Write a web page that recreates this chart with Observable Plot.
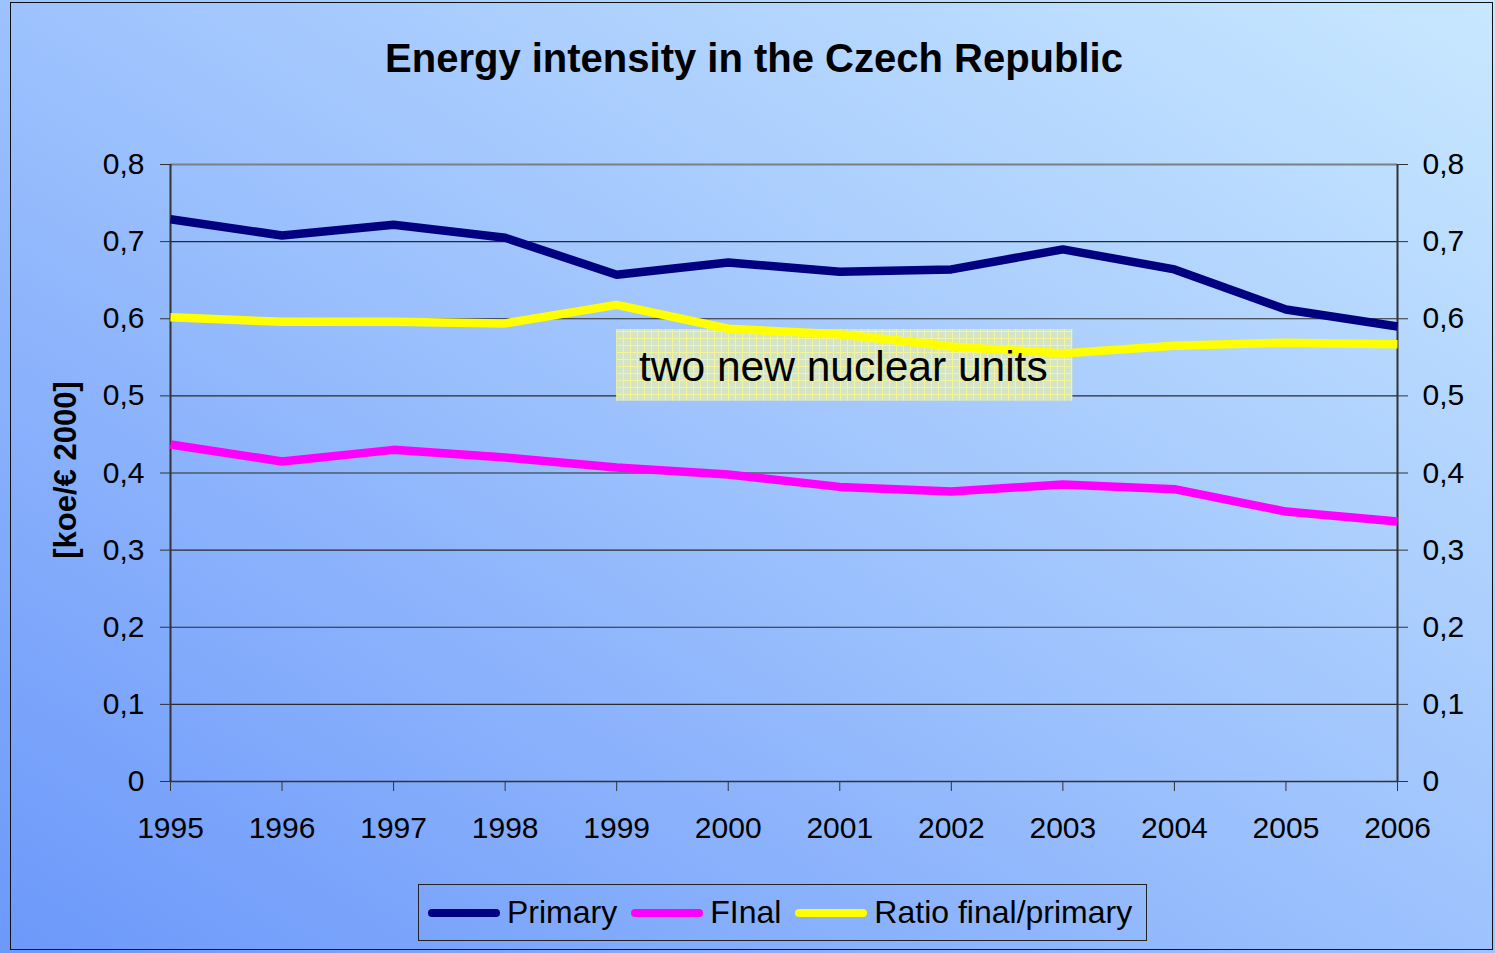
<!DOCTYPE html>
<html>
<head>
<meta charset="utf-8">
<script src="https://cdn.jsdelivr.net/npm/d3@7"></script>
<script src="https://cdn.jsdelivr.net/npm/@observablehq/plot@0.6"></script>
<style>
  html, body { margin: 0; padding: 0; }
  body { width: 1495px; height: 953px; overflow: hidden; font-family: "Liberation Sans", Arial, sans-serif;
         background: linear-gradient(to top right, #6c98fa 0%, #9dc2fd 50%, #c8e8ff 100%); position: relative; }
  #frame { position: absolute; left: 10px; top: 2px; width: 1483px; height: 948px; border: 1.5px solid #111; box-sizing: border-box; }
  #title { position: absolute; left: 0; width: 1508px; top: 36px; text-align: center; font-weight: bold; font-size: 40px; color: #000; }
  #ylabel { position: absolute; left: 66px; top: 470px; transform: translate(-50%, -50%) rotate(-90deg); font-weight: bold; font-size: 31px; white-space: nowrap; color: #000; }
  #chart { position: absolute; left: 0; top: 100px; }
  #legend { position: absolute; left: 418px; top: 884px; width: 729px; height: 57px; border: 1.5px solid #222; box-sizing: border-box;
            display: flex; align-items: center; padding-left: 9px; font-size: 32px; color: #000; white-space: nowrap; }
  .item { display: flex; align-items: center; margin-right: 14px; white-space: nowrap; flex: none; }
  .sw { display: inline-block; width: 72px; height: 8px; border-radius: 4px; margin-right: 7px; }
</style>
</head>
<body>
<div id="frame"></div>
<div id="title">Energy intensity in the Czech Republic</div>
<div id="ylabel">[koe/€ 2000]</div>
<div id="chart"></div>
<div id="legend"></div>
<script>
const years = [1995, 1996, 1997, 1998, 1999, 2000, 2001, 2002, 2003, 2004, 2005, 2006];
const primary = [0.729, 0.708, 0.722, 0.705, 0.657, 0.673, 0.661, 0.664, 0.690, 0.664, 0.612, 0.590];
const finalE  = [0.437, 0.415, 0.430, 0.420, 0.407, 0.398, 0.382, 0.376, 0.385, 0.379, 0.350, 0.337];
const ratio   = [0.602, 0.596, 0.596, 0.594, 0.618, 0.587, 0.580, 0.564, 0.555, 0.565, 0.569, 0.567];
const seriesNames = ["Primary", "FInal", "Ratio final/primary"];
const seriesColors = ["#000080", "#ff00ff", "#ffff00"];
const yTicks = [0, 0.1, 0.2, 0.3, 0.4, 0.5, 0.6, 0.7, 0.8];
const annotationText = "two new nuclear units";
const annotationBox = [{x1: 1999, x2: 2003.09, y1: 0.493, y2: 0.586}];
const annotationPos = [{x: 1999.2, y: 0.537}];

const seriesValues = [primary, finalE, ratio];
const rows = [];
seriesNames.forEach((s, i) => years.forEach((yr, j) => rows.push({series: s, year: yr, value: seriesValues[i][j]})));

const fmt = d => d === 0 ? "0" : String(d).replace(".", ",");
const font = "Liberation Sans, Arial, sans-serif";

const plot = Plot.plot({
  width: 1495,
  height: 760,
  marginLeft: 170,
  marginRight: 98,
  marginTop: 64,
  marginBottom: 79,
  style: {fontFamily: font, fontSize: "30px", color: "#000", background: "transparent", overflow: "visible"},
  x: {domain: [1995, 2006], label: null},
  y: {domain: [0, 0.8], label: null},
  color: {domain: seriesNames, range: seriesColors},
  marks: [
    Plot.ruleY(yTicks.filter(d => d > 0 && d < 0.8), {stroke: "#2a2a2a", strokeWidth: 1.2}),
    Plot.ruleY([0.8], {stroke: "#7a7f88", strokeWidth: 2}),
    Plot.ruleX([1995, 2006], {y1: 0, y2: 0.8, stroke: "#333", strokeWidth: 2}),
    Plot.ruleY([0], {stroke: "#333", strokeWidth: 1.5}),
    Plot.axisY({ticks: yTicks, tickFormat: fmt, tickSize: 10, tickPadding: 16, anchor: "left", label: null, stroke: "#333", fontSize: 30}),
    Plot.axisY({ticks: yTicks, tickFormat: fmt, tickSize: 10, tickPadding: 15, anchor: "right", label: null, stroke: "#333", fontSize: 30}),
    Plot.axisX({ticks: years, tickFormat: d => String(d), tickSize: 10, tickPadding: 25, label: null, stroke: "#333", fontSize: 30}),
    Plot.rect(annotationBox, {x1: "x1", x2: "x2", y1: "y1", y2: "y2", fill: "url(#annoGrid)"}),
    Plot.line(rows, {x: "year", y: "value", z: "series", stroke: "series", strokeWidth: 8.5, strokeLinejoin: "miter", strokeLinecap: "butt"}),
    Plot.text(annotationPos, {x: "x", y: "y", text: () => annotationText, textAnchor: "start", fontSize: 42.5, fill: "#000"})
  ]
});

// pattern for annotation box
const ns = "http://www.w3.org/2000/svg";
const defs = document.createElementNS(ns, "defs");
defs.innerHTML = `<pattern id="annoGrid" patternUnits="userSpaceOnUse" width="7" height="7">
  <rect width="7" height="7" fill="#d6e4c6"/>
  <path d="M0 0.5H7M0.5 0V7" stroke="#f3f59a" stroke-width="1"/>
</pattern>`;
plot.insertBefore(defs, plot.firstChild);
document.getElementById("chart").appendChild(plot);

// legend
const legend = document.getElementById("legend");
seriesNames.forEach((s, i) => {
  const it = document.createElement("div");
  it.className = "item";
  const sw = document.createElement("span");
  sw.className = "sw";
  sw.style.background = seriesColors[i];
  const t = document.createElement("span");
  t.textContent = s;
  it.appendChild(sw); it.appendChild(t);
  legend.appendChild(it);
});
</script>
</body>
</html>
